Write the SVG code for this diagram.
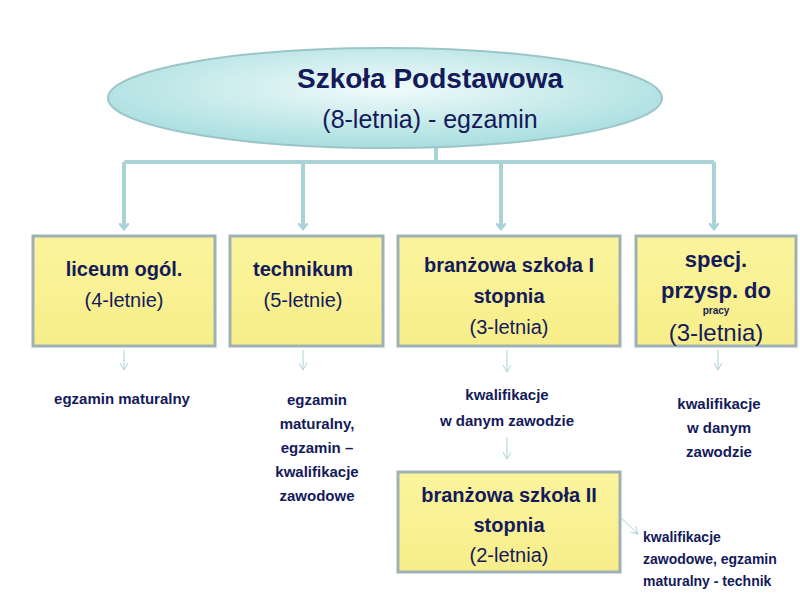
<svg xmlns="http://www.w3.org/2000/svg" width="800" height="599" viewBox="0 0 800 599">
<defs>
<radialGradient id="eg" cx="0.5" cy="0.4" r="0.6"><stop offset="0" stop-color="#f2fbfb"/><stop offset="1" stop-color="#a8dedf"/></radialGradient>
<linearGradient id="bg" x1="0" y1="0" x2="0" y2="1"><stop offset="0" stop-color="#fbf49c"/><stop offset="1" stop-color="#f7ee8a"/></linearGradient>
<marker id="ah" markerWidth="10" markerHeight="10" refX="5" refY="5" orient="auto" markerUnits="userSpaceOnUse"><path d="M0,0 L6,5 L0,10" fill="none" stroke="#a9d3d6" stroke-width="2.5"/></marker>
<marker id="as" markerWidth="8" markerHeight="8" refX="7" refY="4" orient="auto" markerUnits="userSpaceOnUse"><path d="M0,0 L7,4 L0,8" fill="none" stroke="#a9d3d6" stroke-width="1"/></marker>
</defs>
<style>
.box{fill:url(#bg);stroke:#9fb1b4;stroke-width:3}
text{font-family:"Liberation Sans",Arial,sans-serif;fill:#141a5a;text-anchor:middle}
.b{font-weight:bold;font-size:20px}
.n{font-size:20px}
.s{font-weight:bold;font-size:15px}
.big{stroke:#a9d3d6;stroke-width:4;fill:none}
.sm{stroke:#a9d3d6;stroke-width:1;fill:none}
</style>
<g id="connectors">
<path class="big" d="M436,148 V162 M124,162 H714"/>
<path class="big" d="M124,162 V228" marker-end="url(#ah)"/>
<path class="big" d="M303,162 V228" marker-end="url(#ah)"/>
<path class="big" d="M501,162 V228" marker-end="url(#ah)"/>
<path class="big" d="M714,162 V228" marker-end="url(#ah)"/>
<path class="sm" d="M124,350 V370" marker-end="url(#as)"/>
<path class="sm" d="M303,350 V370" marker-end="url(#as)"/>
<path class="sm" d="M507,350 V372" marker-end="url(#as)"/>
<path class="sm" d="M718,350 V370" marker-end="url(#as)"/>
<path class="sm" d="M507,437 V459" marker-end="url(#as)"/>
<path class="sm" d="M617,514 L638,534" marker-end="url(#as)"/>
</g>
<g id="root">
<ellipse cx="385" cy="98" rx="277" ry="50" fill="url(#eg)" stroke="#9cc5c8" stroke-width="2"/>
<text x="430" y="88" style="font-weight:bold;font-size:28px">Szkoła Podstawowa</text>
<text x="430" y="128" style="font-size:25px">(8-letnia)  - egzamin</text>
</g>
<g id="liceum"><rect class="box" x="33" y="236" width="182" height="110"/>
<text class="b" x="124" y="276">liceum ogól.</text><text class="n" x="124" y="307">(4-letnie)</text></g>
<g id="technikum"><rect class="box" x="230" y="236" width="153" height="110"/>
<text class="b" x="303" y="276">technikum</text><text class="n" x="303" y="307">(5-letnie)</text></g>
<g id="branzowa1"><rect class="box" x="398" y="236" width="222" height="110"/>
<text class="b" x="509" y="272">branżowa szkoła I</text><text class="b" x="509" y="303">stopnia</text><text class="n" x="509" y="334">(3-letnia)</text></g>
<g id="specj"><rect class="box" x="636" y="236" width="160" height="110"/>
<text class="b" x="716" y="267" style="font-size:22px">specj.</text><text class="b" x="716" y="298" style="font-size:22px">przysp. do</text>
<text x="716" y="314" style="font-weight:bold;font-size:10px">pracy</text><text class="n" x="716" y="341" style="font-size:24px">(3-letnia)</text></g>
<g id="branzowa2"><rect class="box" x="398" y="472" width="222" height="100"/>
<text class="b" x="509" y="502">branżowa szkoła II</text><text class="b" x="509" y="532">stopnia</text><text class="n" x="509" y="562">(2-letnia)</text></g>
<g id="labels">
<text class="s" x="122" y="404">egzamin maturalny</text>
<text class="s" x="317" y="405">egzamin</text><text class="s" x="317" y="429">maturalny,</text><text class="s" x="317" y="453">egzamin –</text><text class="s" x="317" y="477">kwalifikacje</text><text class="s" x="317" y="501">zawodowe</text>
<text class="s" x="507" y="400">kwalifikacje</text><text class="s" x="507" y="426">w danym zawodzie</text>
<text class="s" x="719" y="409">kwalifikacje</text><text class="s" x="719" y="433">w danym</text><text class="s" x="719" y="457">zawodzie</text>
<text class="s" x="643" y="542" style="text-anchor:start;font-size:14px">kwalifikacje</text>
<text class="s" x="643" y="564" style="text-anchor:start;font-size:14px">zawodowe, egzamin</text>
<text class="s" x="643" y="586" style="text-anchor:start;font-size:14px">maturalny - technik</text>
</g>
</svg>
